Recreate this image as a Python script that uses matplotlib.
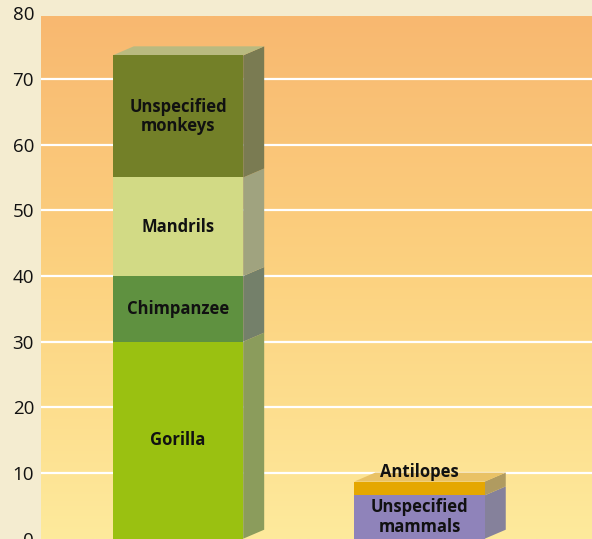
import numpy as np
import matplotlib.pyplot as plt
from matplotlib.patches import Polygon, Rectangle

plt.rcParams['font.family'] = ['Open Sans', 'DejaVu Sans']

# data
groups = ['Primates', 'Other']
primates = ['Gorilla', 'Chimpanzee', 'Mandrils', 'Unspecified\nmonkeys']
primate_vals = [30, 10, 15, 18.6]
others = ['Unspecified\nmammals', 'Antilopes']
other_vals = [6.6, 2.1]
yticks = [0, 10, 20, 30, 40, 50, 60, 70, 80]

front_cols = [['#9ac111', '#5f9140', '#d2da85', '#738028'],
              ['#8f83ba', '#e5a700']]
side_cols = [['#8b9c5c', '#74806a', '#a0a37f', '#7a7b52'],
             ['#85819b', '#b09b60']]
top_cols = ['#b9ba80', '#e9c266']

fig = plt.figure(figsize=(5.92, 5.39), dpi=100)
fig.patch.set_facecolor('#f4ecd0')
ax = fig.add_axes([41 / 592, 0.3 / 539, 551 / 592, 525.4 / 539])
ax.set_facecolor('none')
ax.set_xlim(-0.567, 1.714)
ax.set_ylim(0, 80)

# gradient background
g = np.linspace(0, 1, 256)[:, None]
top = np.array([248, 184, 112]) / 255
mid = np.array([252, 210, 128]) / 255
bot = np.array([254, 234, 156]) / 255
grad = np.where(g < 0.5, top + (mid - top) * (g / 0.5),
                mid + (bot - mid) * ((g - 0.5) / 0.5))
grad = grad.reshape(256, 1, 3)
ax.imshow(grad, extent=[-0.567, 1.714, 0, 79.6], aspect='auto', zorder=0)

for y in yticks[1:-1]:
    ax.axhline(y, color='white', lw=1.6, zorder=1)

width = 0.54
dx = 21 / 241.5
dy = 9 / 6.567

def stack(x, names, vals, fcols, scols, tcol):
    b = 0
    for name, v, fc, sc in zip(names, vals, fcols, scols):
        x0, x1 = x - width / 2, x + width / 2
        ax.add_patch(Rectangle((x0, b), width, v, facecolor=fc, lw=0, zorder=3))
        ax.add_patch(Polygon([(x1, b), (x1 + dx, b + dy), (x1 + dx, b + v + dy),
                              (x1, b + v)], facecolor=sc, lw=0, zorder=2))
        b += v
    ax.add_patch(Polygon([(x0, b), (x0 + dx, b + dy), (x1 + dx, b + dy), (x1, b)],
                         facecolor=tcol, lw=0, zorder=2))

stack(0, primates, primate_vals, front_cols[0], side_cols[0], top_cols[0])
stack(1, others, other_vals, front_cols[1], side_cols[1], top_cols[1])

fs = 12
b = 0
for name, v in zip(primates, primate_vals):
    ax.text(0, b + v / 2, name, ha='center', va='center', fontsize=fs,
            fontweight='bold', color='#111111', linespacing=1.1, zorder=5)
    b += v
ax.text(1, other_vals[0] / 2, others[0], ha='center', va='center', fontsize=fs,
        fontweight='bold', color='#111111', linespacing=1.1, zorder=5)
ax.text(1, sum(other_vals) + 1.5, others[1], ha='center', va='center',
        fontsize=fs, fontweight='bold', color='#111111', zorder=5)

ax.set_yticks(yticks)
ax.set_xticks([])
ax.tick_params(axis='y', length=0, pad=5, labelsize=13.5, labelcolor='#111111')
for s in ax.spines.values():
    s.set_visible(False)

fig.savefig('out.png', dpi=100, facecolor=fig.get_facecolor())
